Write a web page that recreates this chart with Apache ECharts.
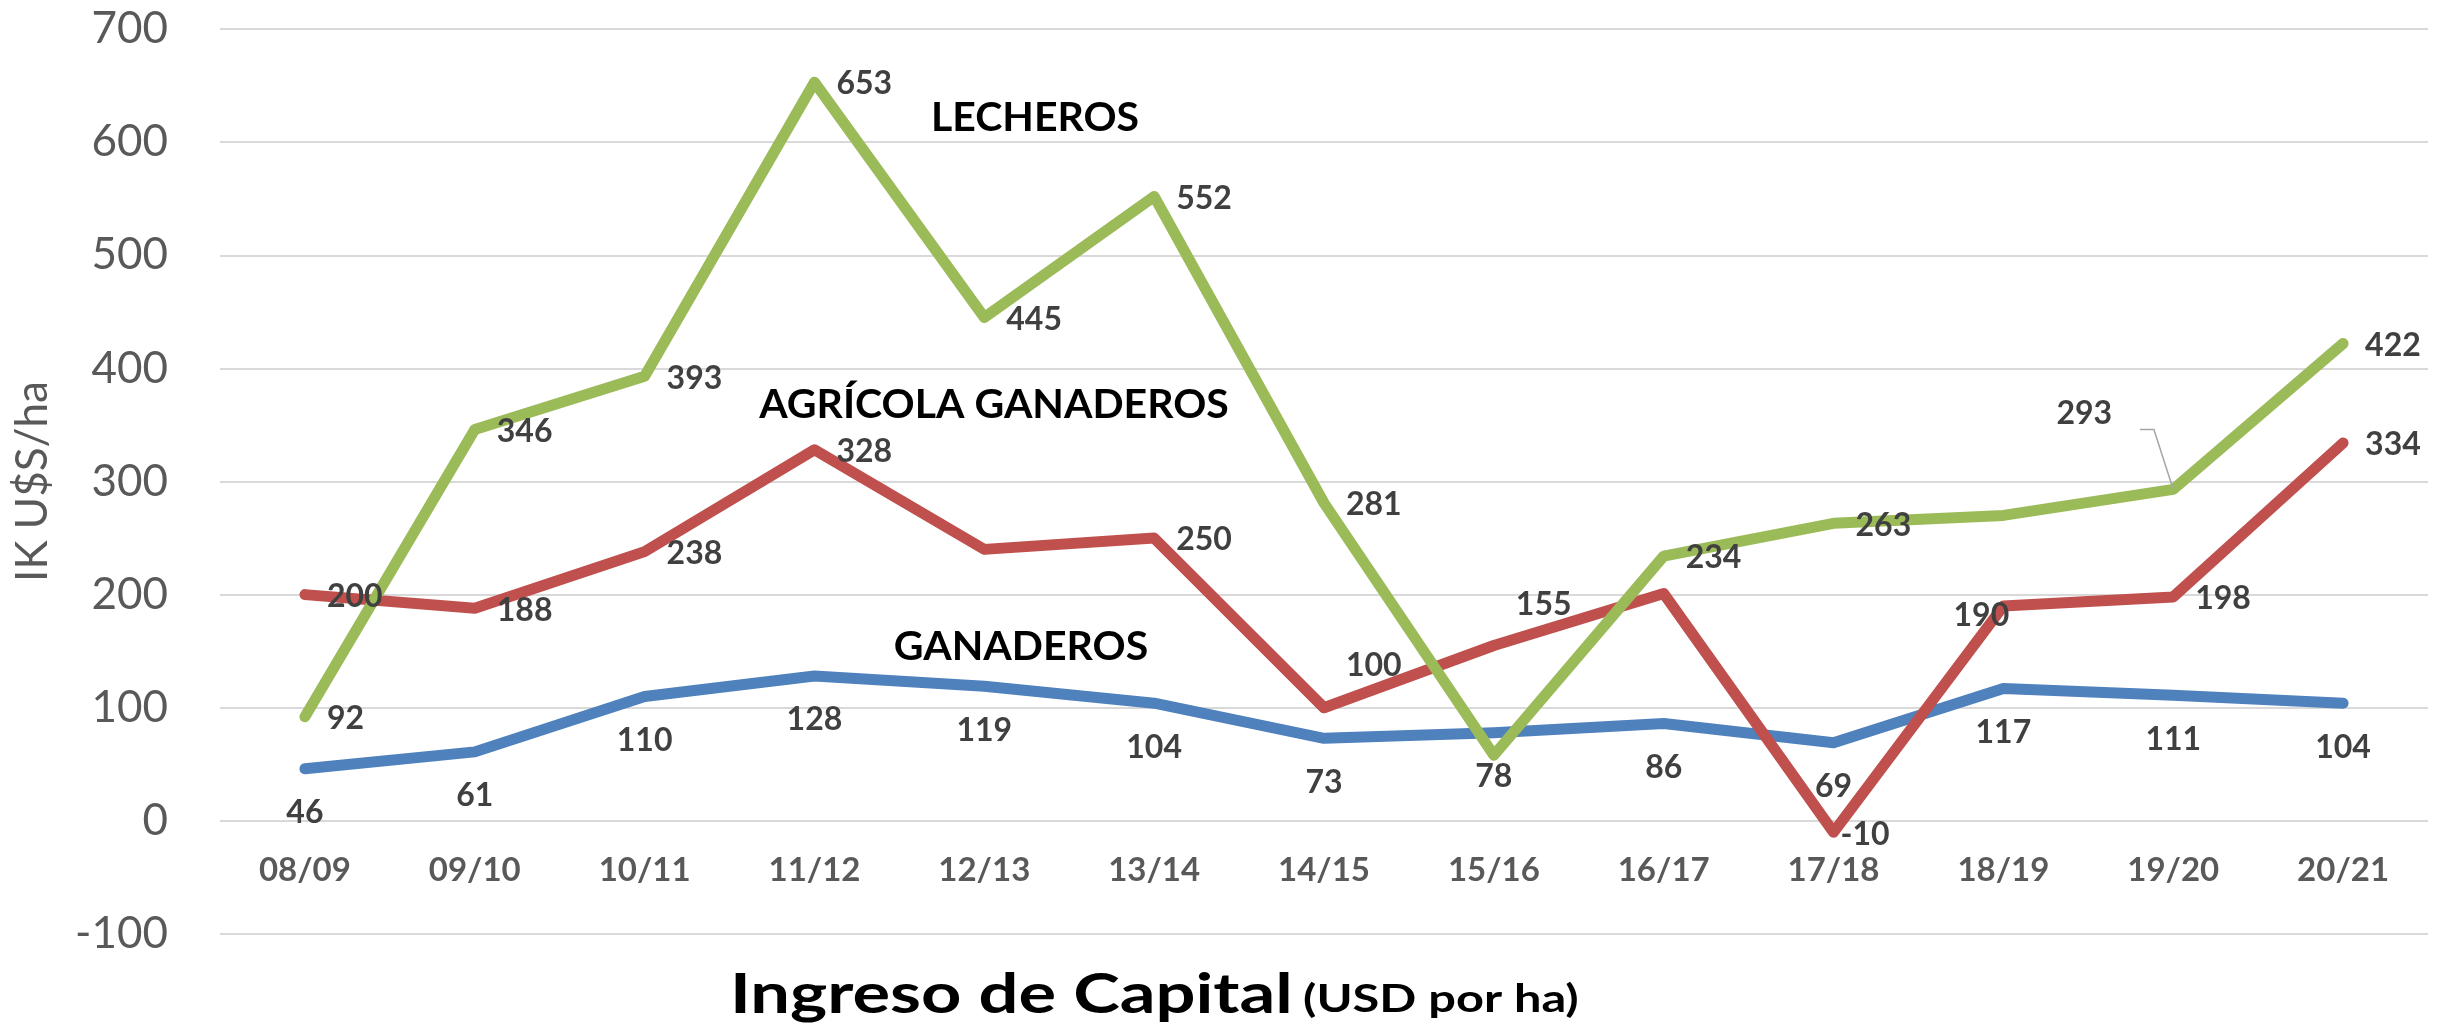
<!DOCTYPE html>
<html>
<head>
<meta charset="utf-8">
<script src="https://cdn.jsdelivr.net/npm/echarts@6/dist/echarts.min.js"></script>
<style>
  html, body { margin: 0; padding: 0; background: #fff; }
  #mainCanvas { width: 2453px; height: 1033px; }
</style>
</head>
<body>
<div id="mainCanvas"></div>
<script>
var myChart = echarts.init(document.getElementById("mainCanvas"));

var categories = ['08/09', '09/10', '10/11', '11/12', '12/13', '13/14', '14/15', '15/16', '16/17', '17/18', '18/19', '19/20', '20/21'];
var lecheros = [92, 346, 393, 653, 445, 552, 281, 58, 234, 263, 270, 293, 422];
var agricolaGanaderos = [200, 188, 238, 328, 240, 250, 100, 155, 201, -10, 190, 198, 334];
var ganaderos = [46, 61, 110, 128, 119, 104, 73, 78, 86, 69, 117, 111, 104];
var yTicks = [-100, 0, 100, 200, 300, 400, 500, 600, 700];

var FONT = 'Lato';
var labelBase = {
    show: true,
    fontFamily: FONT,
    fontWeight: 'bold',
    fontSize: 32,
    color: '#404040'
};

// per-point label tweaks (index -> label option)
var greenLabelTweaks = {
    7: { show: false },
    10: { show: false },
    11: { position: 'inside', offset: [-89, -76] }
};
var redLabelTweaks = {
    4: { show: false },
    6: { offset: [0, -42] },
    7: { offset: [0, -41] },
    8: { show: false },
    9: { distance: 6 },
    10: { position: 'inside', offset: [-22, 10] }
};

function buildData(values, tweaks) {
    return values.map(function (v, i) {
        var item = { value: v };
        if (tweaks[i]) {
            item.label = tweaks[i];
        }
        return item;
    });
}

var greenData = buildData(lecheros, greenLabelTweaks);
greenData[11].labelLine = { show: true, length2: 14, lineStyle: { color: '#a6a6a6', width: 1.5 } };

function lineSeries(name, data, color, label) {
    return {
        name: name,
        type: 'line',
        data: data,
        symbol: 'circle',
        symbolSize: 2,
        showSymbol: true,
        itemStyle: { color: color },
        lineStyle: { color: color, width: 11, cap: 'round', join: 'round' },
        label: label,
        labelLine: { show: false },
        emphasis: { disabled: true },
        animation: false
    };
}

var option = {
    backgroundColor: '#ffffff',
    grid: {
        left: 220,
        right: 25,
        top: 29,
        bottom: 99,
        containLabel: false
    },
    xAxis: {
        type: 'category',
        data: categories,
        boundaryGap: true,
        axisLine: { show: false, onZero: false },
        axisTick: { show: false },
        axisLabel: {
            fontFamily: FONT,
            fontWeight: 'bold',
            fontSize: 33,
            color: '#595959',
            margin: -80,
            interval: 0
        },
        splitLine: { show: false }
    },
    yAxis: {
        type: 'value',
        min: yTicks[0],
        max: yTicks[yTicks.length - 1],
        interval: 100,
        name: 'IK U$S/ha',
        nameLocation: 'middle',
        nameGap: 165,
        nameTextStyle: { fontFamily: FONT, fontSize: 44, color: '#595959' },
        axisLine: { show: false },
        axisTick: { show: false },
        axisLabel: {
            fontFamily: FONT,
            fontSize: 44,
            color: '#595959',
            margin: 52
        },
        splitLine: { show: true, lineStyle: { color: '#d9d9d9', width: 2 } }
    },
    graphic: [
        { type: 'text', x: 1035, y: 118, style: { text: 'LECHEROS', fill: '#000', font: 'bold 41px Lato', align: 'center', verticalAlign: 'middle' } },
        { type: 'text', x: 994, y: 405, style: { text: 'AGRÍCOLA GANADEROS', fill: '#000', font: 'bold 41px Lato', align: 'center', verticalAlign: 'middle' } },
        { type: 'text', x: 1021, y: 647, style: { text: 'GANADEROS', fill: '#000', font: 'bold 41px Lato', align: 'center', verticalAlign: 'middle' } },
        // title, slightly widened like the original
        { type: 'text', x: 730, y: 995, scaleX: 1.28, style: { text: 'Ingreso de Capital', fill: '#000', font: 'bold 55px Lato', align: 'left', verticalAlign: 'middle' } },
        { type: 'text', x: 1303, y: 999, scaleX: 1.25, style: { text: '(USD por ha)', fill: '#000', font: 'bold 39px Lato', align: 'left', verticalAlign: 'middle' } }
    ],
    series: [
        lineSeries('GANADEROS', ganaderos, '#4f81bd', Object.assign({}, labelBase, { position: 'bottom', distance: 27 })),
        lineSeries('AGRÍCOLA GANADEROS', buildData(agricolaGanaderos, redLabelTweaks), '#c0504d', Object.assign({}, labelBase, { position: 'right', distance: 21, offset: [0, 2] })),
        lineSeries('LECHEROS', greenData, '#9bbb59', Object.assign({}, labelBase, { position: 'right', distance: 21, offset: [0, 2] }))
    ]
};

myChart.setOption(option);
</script>
</body>
</html>
